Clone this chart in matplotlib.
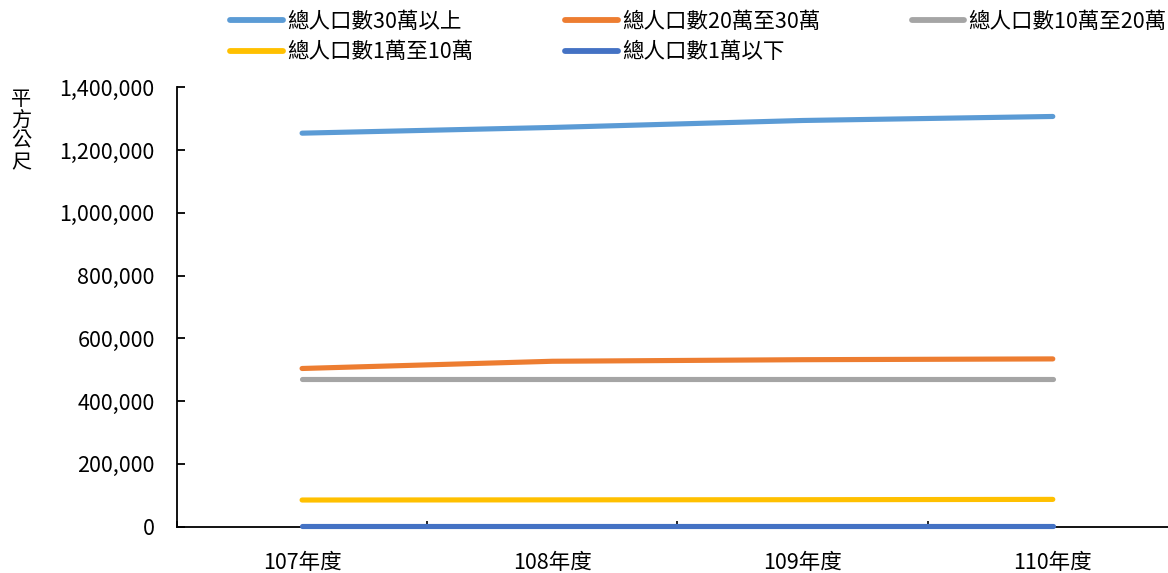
import matplotlib
matplotlib.use("Agg")
import matplotlib.pyplot as plt
from matplotlib.ticker import FuncFormatter, FixedLocator

plt.rcParams['font.family'] = ['Noto Sans CJK TC', 'DejaVu Sans']

# 各年度不同人口規模之面積（平方公尺）
years = ['107年度', '108年度', '109年度', '110年度']
pop_30w_up = [1253600, 1271800, 1294000, 1306800]
pop_20w_30w = [504000, 527000, 532000, 534500]
pop_10w_20w = [470000, 470000, 470000, 470000]
pop_1w_10w = [85000, 85500, 86000, 87000]
pop_1w_down = [2000, 2000, 2000, 2000]

series = [
    ('總人口數30萬以上', pop_30w_up, '#5B9BD5'),
    ('總人口數20萬至30萬', pop_20w_30w, '#ED7D31'),
    ('總人口數10萬至20萬', pop_10w_20w, '#A5A5A5'),
    ('總人口數1萬至10萬', pop_1w_10w, '#FFC000'),
    ('總人口數1萬以下', pop_1w_down, '#4472C4'),
]

fig = plt.figure(figsize=(11.68, 5.73), dpi=100)
ax = fig.add_axes([0.1515, 0.0808, 0.857, 0.767])

x = list(range(len(years)))
lines = {}
for name, vals, color in series:
    ln, = ax.plot(x, vals, color=color, lw=3.7, solid_capstyle='round',
                  label=name, zorder=3, clip_on=False)
    lines[name] = ln

ax.set_xlim(-0.5, 3.5)
ax.set_ylim(0, 1400000)
ax.set_yticks(range(0, 1400001, 200000))
ax.yaxis.set_major_formatter(FuncFormatter(lambda v, p: f'{int(v):,}'))
ax.set_xticks(x)
ax.set_xticklabels(years)
ax.xaxis.set_minor_locator(FixedLocator([-0.5, 0.5, 1.5, 2.5, 3.5]))

for s in ['top', 'right']:
    ax.spines[s].set_visible(False)
for s in ['left', 'bottom']:
    ax.spines[s].set_linewidth(1.3)
    ax.spines[s].set_color('black')

ax.tick_params(axis='y', direction='in', length=6, width=1.3, labelsize=15.5, pad=16)
ax.tick_params(axis='x', which='major', length=0, labelsize=15.5, pad=18)
ax.tick_params(axis='x', which='minor', direction='in', length=4, width=1.2)

fig.text(0.018, 0.845, '平\n方\n公\n尺', fontsize=14.5, ha='center', va='top', linespacing=1.0)

# 圖例依欄排列：三欄兩列
order = ['總人口數30萬以上', '總人口數1萬至10萬', '總人口數20萬至30萬',
         '總人口數1萬以下', '總人口數10萬至20萬']
leg = ax.legend([lines[n] for n in order], order, ncol=3, loc='upper left',
                bbox_to_anchor=(0.197, 0.981), bbox_transform=fig.transFigure,
                frameon=False, fontsize=15.5, handlelength=2.45, handletextpad=0.2,
                columnspacing=4.25, labelspacing=0.38, borderaxespad=0.0, borderpad=0.0)
for h in leg.get_lines():
    h.set_linewidth(4.2)

fig.savefig('out.png', dpi=100)
